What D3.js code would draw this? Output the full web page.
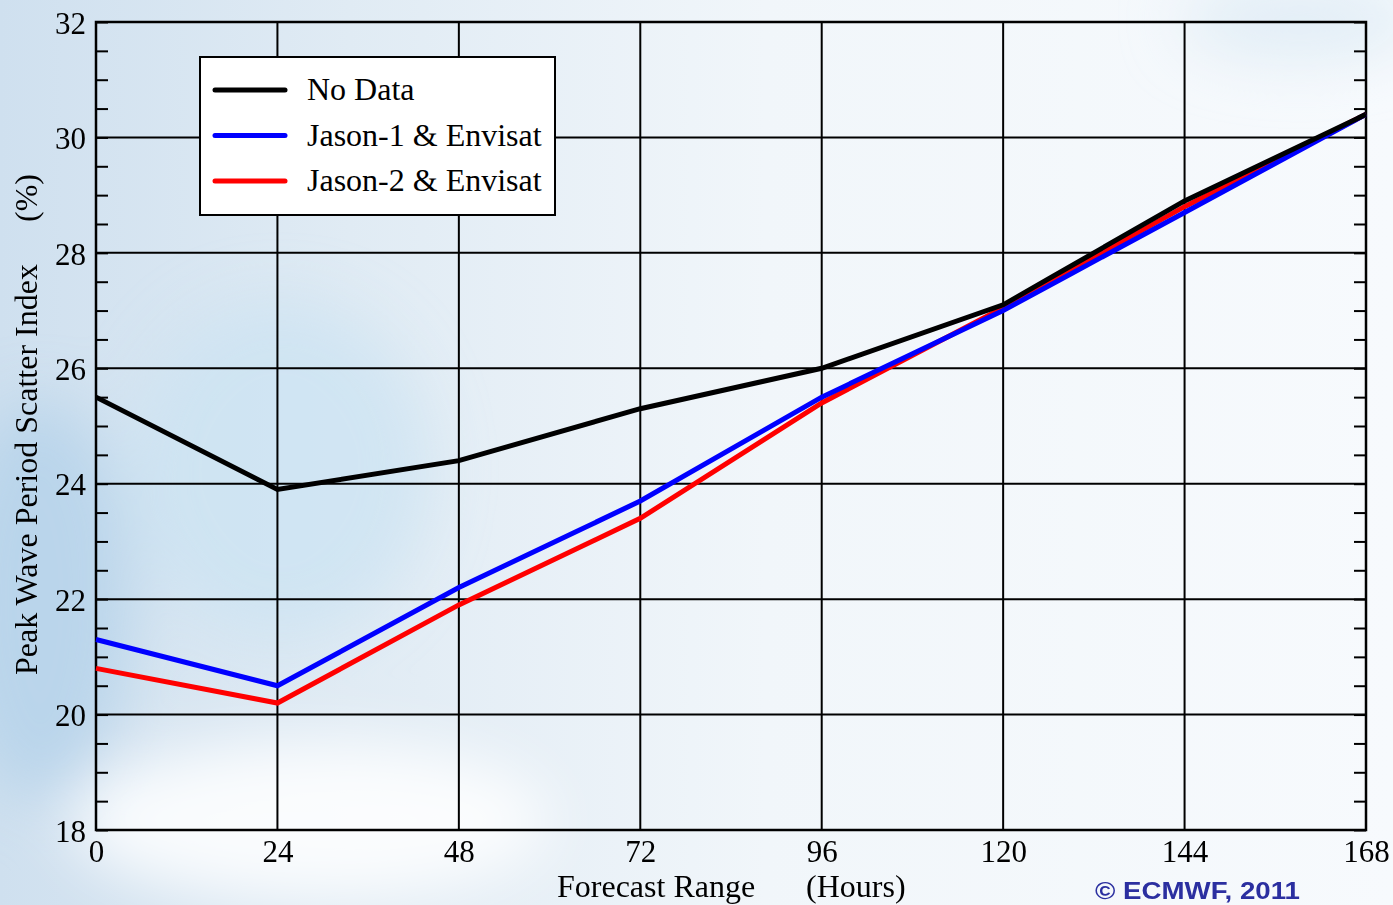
<!DOCTYPE html>
<meta charset="utf-8" />
<style>
    body { margin: 0; }
    text { font-family: "Liberation Serif", "Times New Roman", serif; fill: #000; }
</style>
<title>Peak Wave Period Scatter Index</title>
<body></body>
<script src="https://d3js.org/d3.v7.min.js"></script>
<script>

    // forecast steps (hours)
    var steps = [0, 24, 48, 72, 96, 120, 144, 168];

    // scatter index (%) per experiment
    var noData = [25.5, 23.9, 24.4, 25.3, 26.0, 27.1, 28.9, 30.4];
    var jason1 = [21.3, 20.5, 22.2, 23.7, 25.5, 27.0, 28.7, 30.4];
    var jason2 = [20.8, 20.2, 21.9, 23.4, 25.4, 27.05, 28.8, 30.4];

    var seriesNames = ["No Data", "Jason-1 & Envisat", "Jason-2 & Envisat"];
    var seriesColors = ["#000000", "#0000ff", "#ff0000"];
    var seriesValues = [noData, jason1, jason2];

    var xTicks = [0, 24, 48, 72, 96, 120, 144, 168];
    var yTicks = [18, 20, 22, 24, 26, 28, 30, 32];

    var svgWidth = 1393, svgHeight = 905;
    var margin = {top: 22, right: 27, bottom: 75, left: 96};
    var width = svgWidth - margin.left - margin.right;
    var height = svgHeight - margin.top - margin.bottom;

    var svg = d3.select("body").append("svg")
        .attr("width", svgWidth)
        .attr("height", svgHeight);

    // sky background
    var defs = svg.append("defs");
    var grad = defs.append("linearGradient").attr("id", "sky")
        .attr("x1", "0%").attr("y1", "0%").attr("x2", "100%").attr("y2", "0%");
    grad.append("stop").attr("offset", "0%").attr("stop-color", "#cfe0ef");
    grad.append("stop").attr("offset", "25%").attr("stop-color", "#e0ebf4");
    grad.append("stop").attr("offset", "55%").attr("stop-color", "#f1f6fa");
    grad.append("stop").attr("offset", "100%").attr("stop-color", "#f7fafd");
    defs.append("filter").attr("id", "blur")
        .append("feGaussianBlur").attr("stdDeviation", 30);

    svg.append("rect").attr("width", svgWidth).attr("height", svgHeight).attr("fill", "url(#sky)");

    var clouds = svg.append("g").attr("filter", "url(#blur)");
    clouds.append("ellipse").attr("cx", 40).attr("cy", 600).attr("rx", 90).attr("ry", 200).attr("fill", "#b4d2ea").attr("opacity", 0.8);
    clouds.append("ellipse").attr("cx", 310).attr("cy", 820).attr("rx", 240).attr("ry", 80).attr("fill", "#ffffff").attr("opacity", 0.85);
    clouds.append("ellipse").attr("cx", 280).attr("cy", 470).attr("rx", 150).attr("ry", 170).attr("fill", "#cbe2f2").attr("opacity", 0.7);
    clouds.append("ellipse").attr("cx", 1300).attr("cy", 20).attr("rx", 120).attr("ry", 40).attr("fill", "#d8e8f4").attr("opacity", 0.7);

    var g = svg.append("g")
        .attr("transform", "translate(" + margin.left + "," + margin.top + ")");

    var x = d3.scaleLinear().domain([0, 168]).range([0, width]);
    var y = d3.scaleLinear().domain([18, 32]).range([height, 0]);

    // grid
    g.append("g").selectAll("line").data(xTicks).enter().append("line")
        .attr("x1", d => x(d)).attr("x2", d => x(d))
        .attr("y1", 0).attr("y2", height)
        .attr("stroke", "#000").attr("stroke-width", 2);
    g.append("g").selectAll("line").data(yTicks).enter().append("line")
        .attr("x1", 0).attr("x2", width)
        .attr("y1", d => y(d)).attr("y2", d => y(d))
        .attr("stroke", "#000").attr("stroke-width", 2);

    // minor ticks (inside, both sides)
    var minor = d3.range(18, 32.01, 0.5);
    g.append("g").call(d3.axisRight(y).tickValues(minor).tickSize(12).tickFormat(""))
        .call(s => s.select(".domain").remove())
        .selectAll("line").attr("stroke-width", 2);
    g.append("g").attr("transform", "translate(" + width + ",0)")
        .call(d3.axisLeft(y).tickValues(minor).tickSize(12).tickFormat(""))
        .call(s => s.select(".domain").remove())
        .selectAll("line").attr("stroke-width", 2);

    // tick labels
    var yAx = g.append("g").call(d3.axisLeft(y).tickValues(yTicks).tickSize(0).tickPadding(10).tickFormat(d3.format("d")));
    yAx.select(".domain").remove();
    yAx.selectAll("text").attr("font-size", 31).attr("dy", "0.36em");
    var xAx = g.append("g").attr("transform", "translate(0," + height + ")")
        .call(d3.axisBottom(x).tickValues(xTicks).tickSize(0).tickPadding(10));
    xAx.select(".domain").remove();
    xAx.selectAll("text").attr("font-size", 31);

    // frame
    g.append("rect").attr("width", width).attr("height", height)
        .attr("fill", "none").attr("stroke", "#000").attr("stroke-width", 2.5);

    // series lines (red first so blue and black sit on top)
    var line = d3.line().x((d, i) => x(steps[i])).y(d => y(d));
    [2, 1, 0].forEach(function (k) {
        g.append("path").datum(seriesValues[k])
            .attr("d", line)
            .attr("fill", "none")
            .attr("stroke", seriesColors[k])
            .attr("stroke-width", 5)
            .attr("stroke-linejoin", "miter");
    });

    // legend
    var legend = svg.append("g").attr("transform", "translate(200,57)");
    legend.append("rect").attr("width", 355).attr("height", 158)
        .attr("fill", "#fff").attr("stroke", "#000").attr("stroke-width", 2);
    seriesNames.forEach(function (name, i) {
        var ly = 33 + i * 45.5;
        legend.append("line").attr("x1", 15).attr("x2", 85).attr("y1", ly).attr("y2", ly)
            .attr("stroke", seriesColors[i]).attr("stroke-width", 5).attr("stroke-linecap", "round");
        legend.append("text").attr("x", 107).attr("y", ly + 10).attr("font-size", 32).text(name);
    });

    // axis titles
    svg.append("text").attr("x", 557).attr("y", 897).attr("font-size", 32).text("Forecast Range");
    svg.append("text").attr("x", 806).attr("y", 897).attr("font-size", 32).text("(Hours)");
    svg.append("text").attr("transform", "translate(37,675) rotate(-90)")
        .attr("font-size", 32).text("Peak Wave Period Scatter Index");
    svg.append("text").attr("transform", "translate(37,222) rotate(-90)")
        .attr("font-size", 32).text("(%)");

    // copyright
    svg.append("text").attr("x", 1095).attr("y", 899)
        .style("font-family", "'Liberation Sans', Arial, sans-serif")
        .attr("font-weight", "bold").attr("font-size", 23).style("fill", "#2b2fa0")
        .attr("textLength", 205).attr("lengthAdjust", "spacingAndGlyphs")
        .text("© ECMWF, 2011");

</script>
